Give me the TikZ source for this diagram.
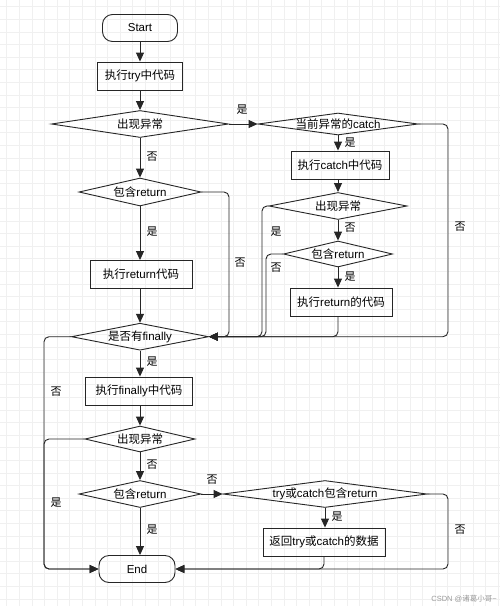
\documentclass[tikz,border=0pt]{standalone}
\usepackage{fontspec}
\setmainfont{Liberation Sans}
\newfontfamily\cjk{Noto Sans CJK SC}
\newcommand{\zh}[1]{{\cjk #1}}
\usetikzlibrary{arrows.meta,shapes.geometric}
\newcommand{\nf}{\fontsize{11.5}{13}\selectfont}
\newcommand{\lf}{\fontsize{11}{13}\selectfont\cjk}
\begin{document}
\begin{tikzpicture}[x=1pt,y=-1pt,
  lc/.style={line width=0.9pt, draw=black!85},
  box/.style={lc, rectangle, minimum height=28pt, inner sep=0pt, font=\nf},
  term/.style={box, rounded corners=10pt, minimum height=27pt},
  dia/.style={lc, diamond, inner sep=0pt},
  dt/.style={label={[font=\nf]center:#1}},
  lab/.style={font=\lf, inner sep=0pt},
  arr/.style={lc, -{Triangle[length=9pt,width=8pt]}},
  con/.style={rounded corners=5pt},
  gridc/.style={line width=0.5pt, draw=black!6}]
\useasboundingbox (0,0) rectangle (500,606);
\fill[white] (0,0) rectangle (500,606);
\foreach \i in {0,...,39} {\draw[gridc] (6.6+12.6*\i,0) -- (6.6+12.6*\i,606);}
\foreach \i in {0,...,47} {\draw[gridc] (0,6.6+12.6*\i) -- (500,6.6+12.6*\i);}

% nodes
\node[term, minimum width=75pt] (start) at (140,28) {Start};
\node[box, minimum width=85pt] (try) at (140,76) {\zh{执行}try\zh{中代码}};
\node[dia, minimum width=177pt, minimum height=27pt, dt={\zh{出现异常}}] (ex1) at (140,124) {};
\node[dia, minimum width=160pt, minimum height=22pt, dt={\zh{当前异常的}catch}] (cat) at (338,124) {};
\node[box, minimum width=98pt] (catbox) at (340,165) {\zh{执行}catch\zh{中代码}};
\node[dia, minimum width=138pt, minimum height=27pt, dt={\zh{出现异常}}] (ex2) at (338,206) {};
\node[dia, minimum width=109pt, minimum height=26pt, dt={\zh{包含}return}] (r2) at (338,254) {};
\node[box, minimum width=102pt] (ret2) at (341,302) {\zh{执行}return\zh{的代码}};
\node[dia, minimum width=122pt, minimum height=28pt, dt={\zh{包含}return}] (r1) at (140,192) {};
\node[box, minimum width=102pt] (retA) at (141,274.5) {\zh{执行}return\zh{代码}};
\node[dia, minimum width=137pt, minimum height=27pt, dt={\zh{是否有}finally}] (fin) at (140,336.7) {};
\node[box, minimum width=107pt] (fbox) at (139,391) {\zh{执行}finally\zh{中代码}};
\node[dia, minimum width=110pt, minimum height=26pt, dt={\zh{出现异常}}] (ex3) at (140,439) {};
\node[dia, minimum width=122pt, minimum height=27pt, dt={\zh{包含}return}] (r3) at (140,494) {};
\node[dia, minimum width=204pt, minimum height=27pt, dt={try\zh{或}catch\zh{包含}return}] (tc) at (325,494) {};
\node[box, minimum width=122pt] (ret3) at (324,542) {\zh{返回}try\zh{或}catch\zh{的数据}};
\node[term, minimum width=76pt] (end) at (137,569) {End};

% corner coordinates
\coordinate (k1) at (229,336.7);
\coordinate (k2) at (448,336.7);
\coordinate (k3) at (262,336.7);
\coordinate (k4) at (266,336.7);
\coordinate (k5) at (338,336.7);
\coordinate (k6) at (44,569);
\coordinate (k7) at (448,569);
\coordinate (k8) at (324,569);

% connectors
\draw[arr] (start.south) -- (try.north);
\draw[arr] (try.south) -- (ex1.north);
\draw[arr] (ex1.east) -- (cat.west);
\draw[arr] (ex1.south) -- (r1.north);
\draw[arr] (r1.south) -- (r1.south |- retA.north);
\draw[arr] (fin.north |- retA.south) -- (fin.north);
\draw[arr, con] (r1.east) -| (k1) -- (fin.east);
\draw[arr, con] (cat.east) -| (k2) -- (fin.east);
\draw[arr] (cat.south) -- (cat.south |- catbox.north);
\draw[arr] (ex2.north |- catbox.south) -- (ex2.north);
\draw[arr] (ex2.south) -- (r2.north);
\draw[arr] (r2.south) -- (r2.south |- ret2.north);
\draw[arr, con] (ex2.west) -| (k3) -- (fin.east);
\draw[arr, con] (r2.west) -| (k4) -- (fin.east);
\draw[arr, con] (k5 |- ret2.south) -- (k5) -- (fin.east);
\draw[arr] (fin.south) -- (fin.south |- fbox.north);
\draw[arr] (ex3.north |- fbox.south) -- (ex3.north);
\draw[arr, con] (fin.west) -| (k6) -- (end.west);
\draw[arr, con] (ex3.west) -| (k6) -- (end.west);
\draw[arr] (ex3.south) -- (r3.north);
\draw[arr] (r3.east) -- (tc.west);
\draw[arr] (r3.south) -- (r3.south |- end.north);
\draw[arr] (tc.south) -- (tc.south |- ret3.north);
\draw[arr, con] (tc.east) -| (k7) -- (end.east);
\draw[arr, con] (ret3.south) -- (k8) -- (end.east);

% branch labels
\node[lab] (l1) at (242,110) {是};
\node[lab] (l2) at (152,157) {否};
\node[lab] (l3) at (152,232) {是};
\node[lab] (l4) at (240,263) {否};
\node[lab] (l5) at (350,143) {是};
\node[lab] (l6) at (460,227) {否};
\node[lab] (l7) at (276,232) {是};
\node[lab] (l8) at (350,228) {否};
\node[lab] (l9) at (276,268) {否};
\node[lab] (l10) at (350,277) {是};
\node[lab] (l11) at (152,362) {是};
\node[lab] (l12) at (56,392) {否};
\node[lab] (l13) at (56,503) {是};
\node[lab] (l14) at (152,465) {否};
\node[lab] (l15) at (212,480) {否};
\node[lab] (l16) at (152,530) {是};
\node[lab] (l17) at (337,517) {是};
\node[lab] (l18) at (460,530) {否};

\node[font=\fontsize{7.5}{9}\selectfont, text=black!40, inner sep=0pt] (wm) at (464,599) {CSDN @\zh{诸葛小哥}\textasciitilde};
\end{tikzpicture}
\end{document}
